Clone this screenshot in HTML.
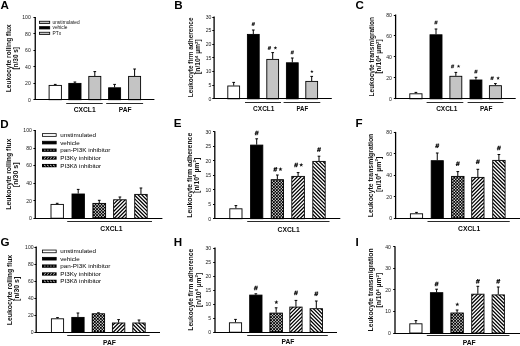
<!DOCTYPE html>
<html><head><meta charset="utf-8"><title>Figure</title>
<style>
html,body{margin:0;padding:0;background:#fff;}
body{width:520px;height:346px;overflow:hidden;font-family:"Liberation Sans", sans-serif;}
svg{display:block;font-family:"Liberation Sans", sans-serif;will-change:transform;filter:blur(0.3px);}
</style></head><body>
<svg width="520" height="346" viewBox="0 0 520 346">
<rect width="520" height="346" fill="#fff"/>
<defs>
<pattern id="chk" width="2.8" height="2.8" patternUnits="userSpaceOnUse">
<rect width="2.8" height="2.8" fill="#000"/>
<rect x="0.1" y="0.1" width="1.2" height="1.2" fill="#fff"/>
<rect x="1.5" y="1.5" width="1.2" height="1.2" fill="#fff"/>
</pattern>
<pattern id="hf" width="2.4" height="2.4" patternUnits="userSpaceOnUse" patternTransform="rotate(-45)">
<rect width="2.4" height="2.4" fill="#fff"/><rect width="2.4" height="1.2" fill="#000"/>
</pattern>
<pattern id="hb" width="2.4" height="2.4" patternUnits="userSpaceOnUse" patternTransform="rotate(45)">
<rect width="2.4" height="2.4" fill="#fff"/><rect width="2.4" height="1.2" fill="#000"/>
</pattern>
</defs>
<text font-size="11.6" font-weight="bold" x="0.4" y="9.4" fill="#000" >A</text>
<line x1="55.25" y1="85" x2="55.25" y2="84.4" stroke="#000" stroke-width="1.0"/>
<line x1="53.9" y1="84.4" x2="56.6" y2="84.4" stroke="#000" stroke-width="1.0"/>
<rect x="49.10" y="85.40" width="12.30" height="14.30" fill="#fff" stroke="#000" stroke-width="0.9"/>
<line x1="74.9" y1="83" x2="74.9" y2="82" stroke="#000" stroke-width="1.0"/>
<line x1="73.55000000000001" y1="82" x2="76.25" y2="82" stroke="#000" stroke-width="1.0"/>
<rect x="68.80" y="83.40" width="12.20" height="16.30" fill="#000" stroke="#000" stroke-width="0.9"/>
<line x1="94.80000000000001" y1="76" x2="94.80000000000001" y2="71.6" stroke="#000" stroke-width="1.0"/>
<line x1="93.45000000000002" y1="71.6" x2="96.15" y2="71.6" stroke="#000" stroke-width="1.0"/>
<rect x="88.80" y="76.40" width="12.00" height="23.30" fill="#c4c4c4" stroke="#000" stroke-width="0.9"/>
<line x1="114.6" y1="87.4" x2="114.6" y2="84.4" stroke="#000" stroke-width="1.0"/>
<line x1="113.25" y1="84.4" x2="115.94999999999999" y2="84.4" stroke="#000" stroke-width="1.0"/>
<rect x="108.60" y="87.80" width="12.00" height="11.90" fill="#000" stroke="#000" stroke-width="0.9"/>
<line x1="134.6" y1="76" x2="134.6" y2="69" stroke="#000" stroke-width="1.0"/>
<line x1="133.25" y1="69" x2="135.95" y2="69" stroke="#000" stroke-width="1.0"/>
<rect x="128.60" y="76.40" width="12.00" height="23.30" fill="#c4c4c4" stroke="#000" stroke-width="0.9"/>
<line x1="35.25" y1="16.9" x2="35.25" y2="100.1" stroke="#000" stroke-width="1.3"/>
<line x1="34.7" y1="99.5" x2="154.4" y2="99.5" stroke="#000" stroke-width="1.2"/>
<line x1="33.45" y1="99.5" x2="35.25" y2="99.5" stroke="#000" stroke-width="1.0"/>
<text font-size="5.1" text-anchor="end" x="30.75" y="101.55" fill="#1a1a1a" >0</text>
<line x1="33.45" y1="83.5" x2="35.25" y2="83.5" stroke="#000" stroke-width="1.0"/>
<text font-size="5.1" text-anchor="end" x="30.75" y="85.09" fill="#1a1a1a" >20</text>
<line x1="33.45" y1="66.5" x2="35.25" y2="66.5" stroke="#000" stroke-width="1.0"/>
<text font-size="5.1" text-anchor="end" x="30.75" y="68.63" fill="#1a1a1a" >40</text>
<line x1="33.45" y1="50.5" x2="35.25" y2="50.5" stroke="#000" stroke-width="1.0"/>
<text font-size="5.1" text-anchor="end" x="30.75" y="52.169999999999995" fill="#1a1a1a" >60</text>
<line x1="33.45" y1="33.5" x2="35.25" y2="33.5" stroke="#000" stroke-width="1.0"/>
<text font-size="5.1" text-anchor="end" x="30.75" y="35.71" fill="#1a1a1a" >80</text>
<line x1="33.45" y1="17.5" x2="35.25" y2="17.5" stroke="#000" stroke-width="1.0"/>
<text font-size="5.1" text-anchor="end" x="30.75" y="19.249999999999993" fill="#1a1a1a" >100</text>
<text font-size="6.5" font-weight="bold" text-anchor="middle" textLength="67.9" lengthAdjust="spacingAndGlyphs" transform="translate(11.3 58.3) rotate(-90)" fill="#111" >Leukocyte rolling flux</text>
<text font-size="6.3" font-weight="bold" text-anchor="middle" textLength="22.5" lengthAdjust="spacingAndGlyphs" transform="translate(18.1 58.3) rotate(-90)" fill="#111" >[n/30 s]</text>
<line x1="66.2" y1="103.5" x2="102.7" y2="103.5" stroke="#2a2a2a" stroke-width="1.2"/>
<line x1="106.2" y1="103.5" x2="143.1" y2="103.5" stroke="#2a2a2a" stroke-width="1.2"/>
<text font-size="6.6" font-weight="bold" text-anchor="middle" textLength="22" lengthAdjust="spacingAndGlyphs" x="84.7" y="111.75" fill="#0a0a0a" >CXCL1</text>
<text font-size="6.6" font-weight="bold" text-anchor="middle" textLength="12.8" lengthAdjust="spacingAndGlyphs" x="125.1" y="111.75" fill="#0a0a0a" >PAF</text>
<rect x="39.5" y="21.25" width="10.2" height="2.30" fill="#c4c4c4" stroke="#000" stroke-width="0.8"/>
<text font-size="4.8" x="52.5" y="24.08" fill="#111" >unstimulated</text>
<rect x="39.5" y="26.65" width="10.2" height="2.30" fill="#000" stroke="#000" stroke-width="0.8"/>
<text font-size="4.8" x="52.5" y="29.48" fill="#111" >vehicle</text>
<rect x="39.5" y="32.25" width="10.2" height="2.30" fill="#c4c4c4" stroke="#000" stroke-width="0.8"/>
<text font-size="4.8" x="52.5" y="35.08" fill="#111" >PTx</text>
<text font-size="11.6" font-weight="bold" x="174.2" y="9.3" fill="#000" >B</text>
<line x1="233.7" y1="85.6" x2="233.7" y2="82.4" stroke="#000" stroke-width="1.0"/>
<line x1="232.35" y1="82.4" x2="235.04999999999998" y2="82.4" stroke="#000" stroke-width="1.0"/>
<rect x="227.80" y="86.00" width="11.80" height="12.80" fill="#fff" stroke="#000" stroke-width="0.9"/>
<line x1="253.3" y1="34" x2="253.3" y2="30" stroke="#000" stroke-width="1.0"/>
<line x1="251.95000000000002" y1="30" x2="254.65" y2="30" stroke="#000" stroke-width="1.0"/>
<rect x="247.40" y="34.40" width="11.80" height="64.40" fill="#000" stroke="#000" stroke-width="0.9"/>
<path d="M252.20,25.85L253.10,22.15M253.50,25.85L254.40,22.15M251.95,23.35L254.95,23.35M251.65,24.65L254.65,24.65" stroke="#111" stroke-width="0.75" fill="none"/>
<line x1="272.7" y1="59" x2="272.7" y2="52.6" stroke="#000" stroke-width="1.0"/>
<line x1="271.34999999999997" y1="52.6" x2="274.05" y2="52.6" stroke="#000" stroke-width="1.0"/>
<rect x="266.80" y="59.40" width="11.80" height="39.40" fill="#c4c4c4" stroke="#000" stroke-width="0.9"/>
<path d="M268.30,49.85L269.20,46.15M269.60,49.85L270.50,46.15M268.05,47.35L271.05,47.35M267.75,48.65L270.75,48.65" stroke="#111" stroke-width="0.75" fill="none"/>
<polygon points="275.40,46.00 275.87,47.25 277.21,47.31 276.16,48.15 276.52,49.44 275.40,48.70 274.28,49.44 274.64,48.15 273.59,47.31 274.93,47.25" fill="#111"/>
<line x1="292.3" y1="62.4" x2="292.3" y2="58" stroke="#000" stroke-width="1.0"/>
<line x1="290.95" y1="58" x2="293.65000000000003" y2="58" stroke="#000" stroke-width="1.0"/>
<rect x="286.40" y="62.80" width="11.80" height="36.00" fill="#000" stroke="#000" stroke-width="0.9"/>
<path d="M291.20,54.25L292.10,50.55M292.50,54.25L293.40,50.55M290.95,51.75L293.95,51.75M290.65,53.05L293.65,53.05" stroke="#111" stroke-width="0.75" fill="none"/>
<line x1="311.7" y1="81" x2="311.7" y2="76.4" stroke="#000" stroke-width="1.0"/>
<line x1="310.34999999999997" y1="76.4" x2="313.05" y2="76.4" stroke="#000" stroke-width="1.0"/>
<rect x="305.80" y="81.40" width="11.80" height="17.40" fill="#c4c4c4" stroke="#000" stroke-width="0.9"/>
<polygon points="311.90,69.79 312.35,70.99 313.62,71.04 312.62,71.83 312.96,73.06 311.90,72.36 310.84,73.06 311.18,71.83 310.18,71.04 311.45,70.99" fill="#111"/>
<line x1="214.1" y1="16.5" x2="214.1" y2="99.1" stroke="#000" stroke-width="1.3"/>
<line x1="213.54999999999998" y1="98.5" x2="331.8" y2="98.5" stroke="#000" stroke-width="1.2"/>
<line x1="212.29999999999998" y1="98.5" x2="214.1" y2="98.5" stroke="#000" stroke-width="1.0"/>
<text font-size="5.1" text-anchor="end" x="211.3" y="100.64999999999999" fill="#1a1a1a" >0</text>
<line x1="212.29999999999998" y1="85.5" x2="214.1" y2="85.5" stroke="#000" stroke-width="1.0"/>
<text font-size="5.1" text-anchor="end" x="211.3" y="87.01666666666665" fill="#1a1a1a" >5</text>
<line x1="212.29999999999998" y1="71.5" x2="214.1" y2="71.5" stroke="#000" stroke-width="1.0"/>
<text font-size="5.1" text-anchor="end" x="211.3" y="73.38333333333333" fill="#1a1a1a" >10</text>
<line x1="212.29999999999998" y1="57.5" x2="214.1" y2="57.5" stroke="#000" stroke-width="1.0"/>
<text font-size="5.1" text-anchor="end" x="211.3" y="59.75" fill="#1a1a1a" >15</text>
<line x1="212.29999999999998" y1="44.5" x2="214.1" y2="44.5" stroke="#000" stroke-width="1.0"/>
<text font-size="5.1" text-anchor="end" x="211.3" y="46.11666666666667" fill="#1a1a1a" >20</text>
<line x1="212.29999999999998" y1="30.5" x2="214.1" y2="30.5" stroke="#000" stroke-width="1.0"/>
<text font-size="5.1" text-anchor="end" x="211.3" y="32.48333333333333" fill="#1a1a1a" >25</text>
<line x1="212.29999999999998" y1="17.5" x2="214.1" y2="17.5" stroke="#000" stroke-width="1.0"/>
<text font-size="5.1" text-anchor="end" x="211.3" y="18.85" fill="#1a1a1a" >30</text>
<text font-size="6.4" font-weight="bold" text-anchor="middle" textLength="79.7" lengthAdjust="spacingAndGlyphs" transform="translate(193.1 57.4) rotate(-90)" fill="#111" >Leukocyte firm adherence</text>
<text font-size="6.75" font-weight="bold" text-anchor="middle" transform="translate(200.39999999999998 56.6) rotate(-90)" fill="#111" >[n/10<tspan font-size="4.4" dy="-2.4">4</tspan><tspan dy="2.4"> µm</tspan><tspan font-size="4.4" dy="-2.4">2</tspan><tspan dy="2.4">]</tspan></text>
<line x1="245" y1="102.5" x2="281" y2="102.5" stroke="#2a2a2a" stroke-width="1.2"/>
<line x1="283.6" y1="102.5" x2="320.3" y2="102.5" stroke="#2a2a2a" stroke-width="1.2"/>
<text font-size="6.6" font-weight="bold" text-anchor="middle" textLength="21.4" lengthAdjust="spacingAndGlyphs" x="263.8" y="111.14999999999999" fill="#0a0a0a" >CXCL1</text>
<text font-size="6.6" font-weight="bold" text-anchor="middle" textLength="11.8" lengthAdjust="spacingAndGlyphs" x="302.3" y="111.14999999999999" fill="#0a0a0a" >PAF</text>
<text font-size="11.6" font-weight="bold" x="355.4" y="8.6" fill="#000" >C</text>
<line x1="415.9" y1="93.4" x2="415.9" y2="92.4" stroke="#000" stroke-width="1.0"/>
<line x1="414.54999999999995" y1="92.4" x2="417.25" y2="92.4" stroke="#000" stroke-width="1.0"/>
<rect x="409.80" y="93.80" width="12.20" height="5.00" fill="#fff" stroke="#000" stroke-width="0.9"/>
<line x1="436.0" y1="34.4" x2="436.0" y2="29" stroke="#000" stroke-width="1.0"/>
<line x1="434.65" y1="29" x2="437.35" y2="29" stroke="#000" stroke-width="1.0"/>
<rect x="430.00" y="34.80" width="12.00" height="64.00" fill="#000" stroke="#000" stroke-width="0.9"/>
<path d="M434.90,24.35L435.80,20.65M436.20,24.35L437.10,20.65M434.65,21.85L437.65,21.85M434.35,23.15L437.35,23.15" stroke="#111" stroke-width="0.75" fill="none"/>
<line x1="455.85" y1="75.9" x2="455.85" y2="72.4" stroke="#000" stroke-width="1.0"/>
<line x1="454.5" y1="72.4" x2="457.20000000000005" y2="72.4" stroke="#000" stroke-width="1.0"/>
<rect x="449.90" y="76.30" width="11.90" height="22.50" fill="#c4c4c4" stroke="#000" stroke-width="0.9"/>
<path d="M451.45,68.25L452.35,64.55M452.75,68.25L453.65,64.55M451.20,65.75L454.20,65.75M450.90,67.05L453.90,67.05" stroke="#111" stroke-width="0.75" fill="none"/>
<polygon points="458.55,64.40 459.02,65.65 460.36,65.71 459.31,66.55 459.67,67.84 458.55,67.10 457.43,67.84 457.79,66.55 456.74,65.71 458.08,65.65" fill="#111"/>
<line x1="475.95000000000005" y1="79.6" x2="475.95000000000005" y2="77.3" stroke="#000" stroke-width="1.0"/>
<line x1="474.6" y1="77.3" x2="477.30000000000007" y2="77.3" stroke="#000" stroke-width="1.0"/>
<rect x="470.00" y="80.00" width="11.90" height="18.80" fill="#000" stroke="#000" stroke-width="0.9"/>
<path d="M474.85,73.45L475.75,69.75M476.15,73.45L477.05,69.75M474.60,70.95L477.60,70.95M474.30,72.25L477.30,72.25" stroke="#111" stroke-width="0.75" fill="none"/>
<line x1="495.4" y1="85.3" x2="495.4" y2="83.6" stroke="#000" stroke-width="1.0"/>
<line x1="494.04999999999995" y1="83.6" x2="496.75" y2="83.6" stroke="#000" stroke-width="1.0"/>
<rect x="489.40" y="85.70" width="12.00" height="13.10" fill="#c4c4c4" stroke="#000" stroke-width="0.9"/>
<path d="M491.00,80.05L491.90,76.35M492.30,80.05L493.20,76.35M490.75,77.55L493.75,77.55M490.45,78.85L493.45,78.85" stroke="#111" stroke-width="0.75" fill="none"/>
<polygon points="498.10,76.20 498.57,77.45 499.91,77.51 498.86,78.35 499.22,79.64 498.10,78.90 496.98,79.64 497.34,78.35 496.29,77.51 497.63,77.45" fill="#111"/>
<line x1="395.6" y1="14.5" x2="395.6" y2="99.1" stroke="#000" stroke-width="1.3"/>
<line x1="395.05" y1="98.5" x2="515.7" y2="98.5" stroke="#000" stroke-width="1.2"/>
<line x1="393.8" y1="98.5" x2="395.6" y2="98.5" stroke="#000" stroke-width="1.0"/>
<text font-size="5.1" text-anchor="end" x="391.9" y="100.64999999999999" fill="#1a1a1a" >0</text>
<line x1="393.8" y1="77.5" x2="395.6" y2="77.5" stroke="#000" stroke-width="1.0"/>
<text font-size="5.1" text-anchor="end" x="391.9" y="79.69999999999999" fill="#1a1a1a" >20</text>
<line x1="393.8" y1="56.5" x2="395.6" y2="56.5" stroke="#000" stroke-width="1.0"/>
<text font-size="5.1" text-anchor="end" x="391.9" y="58.75" fill="#1a1a1a" >40</text>
<line x1="393.8" y1="35.5" x2="395.6" y2="35.5" stroke="#000" stroke-width="1.0"/>
<text font-size="5.1" text-anchor="end" x="391.9" y="37.800000000000004" fill="#1a1a1a" >60</text>
<line x1="393.8" y1="15.5" x2="395.6" y2="15.5" stroke="#000" stroke-width="1.0"/>
<text font-size="5.1" text-anchor="end" x="391.9" y="16.85" fill="#1a1a1a" >80</text>
<text font-size="6.4" font-weight="bold" text-anchor="middle" textLength="79.5" lengthAdjust="spacingAndGlyphs" transform="translate(374.09999999999997 56.7) rotate(-90)" fill="#111" >Leukocyte transmigration</text>
<text font-size="6.7" font-weight="bold" text-anchor="middle" transform="translate(381.09999999999997 56.4) rotate(-90)" fill="#111" >[n/10<tspan font-size="4.4" dy="-2.4">4</tspan><tspan dy="2.4"> µm</tspan><tspan font-size="4.4" dy="-2.4">2</tspan><tspan dy="2.4">]</tspan></text>
<line x1="426.6" y1="102.5" x2="463.3" y2="102.5" stroke="#2a2a2a" stroke-width="1.2"/>
<line x1="467.6" y1="102.5" x2="503.4" y2="102.5" stroke="#2a2a2a" stroke-width="1.2"/>
<text font-size="6.6" font-weight="bold" text-anchor="middle" textLength="21.3" lengthAdjust="spacingAndGlyphs" x="446.8" y="111.35" fill="#0a0a0a" >CXCL1</text>
<text font-size="6.6" font-weight="bold" text-anchor="middle" textLength="12.5" lengthAdjust="spacingAndGlyphs" x="486.2" y="111.35" fill="#0a0a0a" >PAF</text>
<text font-size="11.6" font-weight="bold" x="0.3" y="127.6" fill="#000" >D</text>
<line x1="57.2" y1="204" x2="57.2" y2="203.3" stroke="#000" stroke-width="1.0"/>
<line x1="55.85" y1="203.3" x2="58.550000000000004" y2="203.3" stroke="#000" stroke-width="1.0"/>
<rect x="51.00" y="204.40" width="12.40" height="13.80" fill="#fff" stroke="#000" stroke-width="0.9"/>
<line x1="78.19999999999999" y1="193.6" x2="78.19999999999999" y2="189.4" stroke="#000" stroke-width="1.0"/>
<line x1="76.85" y1="189.4" x2="79.54999999999998" y2="189.4" stroke="#000" stroke-width="1.0"/>
<rect x="72.00" y="194.00" width="12.40" height="24.20" fill="#000" stroke="#000" stroke-width="0.9"/>
<line x1="99.25" y1="203" x2="99.25" y2="200.3" stroke="#000" stroke-width="1.0"/>
<line x1="97.9" y1="200.3" x2="100.6" y2="200.3" stroke="#000" stroke-width="1.0"/>
<clipPath id="c1"><rect x="92.90" y="203.40" width="12.70" height="14.80"/></clipPath>
<rect x="92.90" y="203.40" width="12.70" height="14.80" fill="#000"/>
<g clip-path="url(#c1)" stroke="#fff" stroke-width="1.25" fill="none"><path d="M94.05,217.30V200.40M97.05,217.30V200.40M100.05,217.30V200.40M103.05,217.30V200.40" stroke-dasharray="1.25 1.75"/><path d="M95.55,217.30V200.40M98.55,217.30V200.40M101.55,217.30V200.40M104.55,217.30V200.40" stroke-dasharray="1.25 1.75" stroke-dashoffset="1.5"/></g>
<rect x="92.90" y="203.40" width="12.70" height="14.80" fill="none" stroke="#000" stroke-width="0.9"/>
<line x1="119.9" y1="199.4" x2="119.9" y2="197" stroke="#000" stroke-width="1.0"/>
<line x1="118.55000000000001" y1="197" x2="121.25" y2="197" stroke="#000" stroke-width="1.0"/>
<clipPath id="c2"><rect x="113.60" y="199.80" width="12.60" height="18.40"/></clipPath>
<rect x="113.60" y="199.80" width="12.60" height="18.40" fill="#fff"/>
<path clip-path="url(#c2)" d="M113.60,230.00L126.20,217.40M113.60,226.30L126.20,213.70M113.60,222.60L126.20,210.00M113.60,218.90L126.20,206.30M113.60,215.20L126.20,202.60M113.60,211.50L126.20,198.90M113.60,207.80L126.20,195.20M113.60,204.10L126.20,191.50M113.60,200.40L126.20,187.80" stroke="#000" stroke-width="1.25" fill="none"/>
<rect x="113.60" y="199.80" width="12.60" height="18.40" fill="none" stroke="#000" stroke-width="0.9"/>
<line x1="140.95" y1="194" x2="140.95" y2="188" stroke="#000" stroke-width="1.0"/>
<line x1="139.6" y1="188" x2="142.29999999999998" y2="188" stroke="#000" stroke-width="1.0"/>
<clipPath id="c3"><rect x="134.70" y="194.40" width="12.50" height="23.80"/></clipPath>
<rect x="134.70" y="194.40" width="12.50" height="23.80" fill="#fff"/>
<path clip-path="url(#c3)" d="M147.20,229.90L134.70,217.40M147.20,226.20L134.70,213.70M147.20,222.50L134.70,210.00M147.20,218.80L134.70,206.30M147.20,215.10L134.70,202.60M147.20,211.40L134.70,198.90M147.20,207.70L134.70,195.20M147.20,204.00L134.70,191.50M147.20,200.30L134.70,187.80M147.20,196.60L134.70,184.10" stroke="#000" stroke-width="1.25" fill="none"/>
<rect x="134.70" y="194.40" width="12.50" height="23.80" fill="none" stroke="#000" stroke-width="0.9"/>
<line x1="35.25" y1="130.1" x2="35.25" y2="219.1" stroke="#000" stroke-width="1.3"/>
<line x1="34.7" y1="218.5" x2="162.4" y2="218.5" stroke="#000" stroke-width="1.2"/>
<line x1="33.45" y1="218.5" x2="35.25" y2="218.5" stroke="#000" stroke-width="1.0"/>
<text font-size="5.1" text-anchor="end" x="31.849999999999998" y="220.04999999999998" fill="#1a1a1a" >0</text>
<line x1="33.45" y1="200.5" x2="35.25" y2="200.5" stroke="#000" stroke-width="1.0"/>
<text font-size="5.1" text-anchor="end" x="31.849999999999998" y="202.52999999999997" fill="#1a1a1a" >20</text>
<line x1="33.45" y1="183.5" x2="35.25" y2="183.5" stroke="#000" stroke-width="1.0"/>
<text font-size="5.1" text-anchor="end" x="31.849999999999998" y="185.01" fill="#1a1a1a" >40</text>
<line x1="33.45" y1="165.5" x2="35.25" y2="165.5" stroke="#000" stroke-width="1.0"/>
<text font-size="5.1" text-anchor="end" x="31.849999999999998" y="167.48999999999998" fill="#1a1a1a" >60</text>
<line x1="33.45" y1="148.5" x2="35.25" y2="148.5" stroke="#000" stroke-width="1.0"/>
<text font-size="5.1" text-anchor="end" x="31.849999999999998" y="149.97" fill="#1a1a1a" >80</text>
<line x1="33.45" y1="130.5" x2="35.25" y2="130.5" stroke="#000" stroke-width="1.0"/>
<text font-size="5.1" text-anchor="end" x="31.849999999999998" y="132.45" fill="#1a1a1a" >100</text>
<text font-size="6.8" font-weight="bold" text-anchor="middle" textLength="71.1" lengthAdjust="spacingAndGlyphs" transform="translate(10.8 174.2) rotate(-90)" fill="#111" >Leukocyte rolling flux</text>
<text font-size="6.6" font-weight="bold" text-anchor="middle" textLength="24.7" lengthAdjust="spacingAndGlyphs" transform="translate(18.4 174.8) rotate(-90)" fill="#111" >[n/30 s]</text>
<line x1="67.2" y1="221.5" x2="152" y2="221.5" stroke="#2a2a2a" stroke-width="1.2"/>
<text font-size="6.6" font-weight="bold" text-anchor="middle" textLength="22.1" lengthAdjust="spacingAndGlyphs" x="111.4" y="231.04999999999998" fill="#0a0a0a" >CXCL1</text>
<rect x="42.4" y="133.65" width="13.8" height="2.70" fill="#fff" stroke="#000" stroke-width="0.8"/>
<text font-size="5.54" textLength="35.72" lengthAdjust="spacingAndGlyphs" x="60.2" y="137.079" fill="#000" >unstimulated</text>
<rect x="42.4" y="141.25" width="13.8" height="2.70" fill="#000" stroke="#000" stroke-width="0.8"/>
<text font-size="5.54" textLength="19.61" lengthAdjust="spacingAndGlyphs" x="60.2" y="144.679" fill="#000" >vehicle</text>
<rect x="42" y="148.55" width="14.600000000000001" height="3.30" fill="#000"/>
<path d="M44.40,150.20h1.0M47.40,150.20h1.0M50.40,150.20h1.0M53.40,150.20h1.0" stroke="#e8e8e8" stroke-width="0.95" fill="none"/>
<text font-size="5.54" textLength="50.08" lengthAdjust="spacingAndGlyphs" x="60.2" y="152.279" fill="#000" >pan-PI3K inhibitor</text>
<rect x="42" y="156.35" width="14.600000000000001" height="3.30" fill="#000"/>
<path d="M44.00,158.55L45.80,157.45M47.00,158.55L48.80,157.45M50.00,158.55L51.80,157.45M53.00,158.55L54.80,157.45" stroke="#e8e8e8" stroke-width="0.85" fill="none"/>
<text font-size="5.54" textLength="40.62" lengthAdjust="spacingAndGlyphs" x="60.2" y="160.079" fill="#000" >PI3Kγ inhibitor</text>
<rect x="42" y="163.95" width="14.600000000000001" height="3.30" fill="#000"/>
<path d="M44.00,165.05L45.80,166.15M47.00,165.05L48.80,166.15M50.00,165.05L51.80,166.15M53.00,165.05L54.80,166.15" stroke="#e8e8e8" stroke-width="0.85" fill="none"/>
<text font-size="5.54" textLength="40.98" lengthAdjust="spacingAndGlyphs" x="60.2" y="167.679" fill="#000" >PI3Kδ inhibitor</text>
<text font-size="11.6" font-weight="bold" x="173.7" y="127.2" fill="#000" >E</text>
<line x1="235.9" y1="208.4" x2="235.9" y2="205.6" stroke="#000" stroke-width="1.0"/>
<line x1="234.55" y1="205.6" x2="237.25" y2="205.6" stroke="#000" stroke-width="1.0"/>
<rect x="229.80" y="208.80" width="12.20" height="9.90" fill="#fff" stroke="#000" stroke-width="0.9"/>
<line x1="256.7" y1="144.7" x2="256.7" y2="138.8" stroke="#000" stroke-width="1.0"/>
<line x1="255.35" y1="138.8" x2="258.05" y2="138.8" stroke="#000" stroke-width="1.0"/>
<rect x="250.60" y="145.10" width="12.20" height="73.60" fill="#000" stroke="#000" stroke-width="0.9"/>
<path d="M255.36,135.26L256.46,130.74M256.94,135.26L258.04,130.74M255.05,132.21L258.71,132.21M254.69,133.79L258.35,133.79" stroke="#111" stroke-width="0.92" fill="none"/>
<line x1="277.35" y1="179.3" x2="277.35" y2="175" stroke="#000" stroke-width="1.0"/>
<line x1="276.0" y1="175" x2="278.70000000000005" y2="175" stroke="#000" stroke-width="1.0"/>
<clipPath id="c4"><rect x="271.20" y="179.70" width="12.30" height="39.00"/></clipPath>
<rect x="271.20" y="179.70" width="12.30" height="39.00" fill="#000"/>
<g clip-path="url(#c4)" stroke="#fff" stroke-width="1.25" fill="none"><path d="M272.35,217.80V176.70M275.35,217.80V176.70M278.35,217.80V176.70M281.35,217.80V176.70" stroke-dasharray="1.25 1.75"/><path d="M273.85,217.80V176.70M276.85,217.80V176.70M279.85,217.80V176.70M282.85,217.80V176.70" stroke-dasharray="1.25 1.75" stroke-dashoffset="1.5"/></g>
<rect x="271.20" y="179.70" width="12.30" height="39.00" fill="none" stroke="#000" stroke-width="0.9"/>
<path d="M274.01,171.56L275.11,167.04M275.59,171.56L276.69,167.04M273.70,168.51L277.36,168.51M273.34,170.09L277.00,170.09" stroke="#111" stroke-width="0.92" fill="none"/>
<polygon points="280.45,167.00 280.99,168.45 282.54,168.52 281.33,169.49 281.74,170.98 280.45,170.13 279.16,170.98 279.57,169.49 278.36,168.52 279.91,168.45" fill="#111"/>
<line x1="298.1" y1="176" x2="298.1" y2="172.6" stroke="#000" stroke-width="1.0"/>
<line x1="296.75" y1="172.6" x2="299.45000000000005" y2="172.6" stroke="#000" stroke-width="1.0"/>
<clipPath id="c5"><rect x="291.80" y="176.40" width="12.60" height="42.30"/></clipPath>
<rect x="291.80" y="176.40" width="12.60" height="42.30" fill="#fff"/>
<path clip-path="url(#c5)" d="M291.80,230.50L304.40,217.90M291.80,226.80L304.40,214.20M291.80,223.10L304.40,210.50M291.80,219.40L304.40,206.80M291.80,215.70L304.40,203.10M291.80,212.00L304.40,199.40M291.80,208.30L304.40,195.70M291.80,204.60L304.40,192.00M291.80,200.90L304.40,188.30M291.80,197.20L304.40,184.60M291.80,193.50L304.40,180.90M291.80,189.80L304.40,177.20M291.80,186.10L304.40,173.50M291.80,182.40L304.40,169.80M291.80,178.70L304.40,166.10" stroke="#000" stroke-width="1.25" fill="none"/>
<rect x="291.80" y="176.40" width="12.60" height="42.30" fill="none" stroke="#000" stroke-width="0.9"/>
<path d="M294.76,167.26L295.86,162.74M296.34,167.26L297.44,162.74M294.45,164.21L298.11,164.21M294.09,165.79L297.75,165.79" stroke="#111" stroke-width="0.92" fill="none"/>
<polygon points="301.20,162.70 301.74,164.15 303.29,164.22 302.08,165.19 302.49,166.68 301.20,165.83 299.91,166.68 300.32,165.19 299.11,164.22 300.66,164.15" fill="#111"/>
<line x1="319.0" y1="161" x2="319.0" y2="156.2" stroke="#000" stroke-width="1.0"/>
<line x1="317.65" y1="156.2" x2="320.35" y2="156.2" stroke="#000" stroke-width="1.0"/>
<clipPath id="c6"><rect x="312.80" y="161.40" width="12.40" height="57.30"/></clipPath>
<rect x="312.80" y="161.40" width="12.40" height="57.30" fill="#fff"/>
<path clip-path="url(#c6)" d="M325.20,230.30L312.80,217.90M325.20,226.60L312.80,214.20M325.20,222.90L312.80,210.50M325.20,219.20L312.80,206.80M325.20,215.50L312.80,203.10M325.20,211.80L312.80,199.40M325.20,208.10L312.80,195.70M325.20,204.40L312.80,192.00M325.20,200.70L312.80,188.30M325.20,197.00L312.80,184.60M325.20,193.30L312.80,180.90M325.20,189.60L312.80,177.20M325.20,185.90L312.80,173.50M325.20,182.20L312.80,169.80M325.20,178.50L312.80,166.10M325.20,174.80L312.80,162.40M325.20,171.10L312.80,158.70M325.20,167.40L312.80,155.00M325.20,163.70L312.80,151.30" stroke="#000" stroke-width="1.25" fill="none"/>
<rect x="312.80" y="161.40" width="12.40" height="57.30" fill="none" stroke="#000" stroke-width="0.9"/>
<path d="M317.66,151.86L318.76,147.34M319.24,151.86L320.34,147.34M317.35,148.81L321.01,148.81M316.99,150.39L320.65,150.39" stroke="#111" stroke-width="0.92" fill="none"/>
<line x1="214.8" y1="131.2" x2="214.8" y2="219.1" stroke="#000" stroke-width="1.3"/>
<line x1="214.25" y1="218.5" x2="340.3" y2="218.5" stroke="#000" stroke-width="1.2"/>
<line x1="213.0" y1="218.5" x2="214.8" y2="218.5" stroke="#000" stroke-width="1.0"/>
<text font-size="5.1" text-anchor="end" x="211.20000000000002" y="220.54999999999998" fill="#1a1a1a" >0</text>
<line x1="213.0" y1="204.5" x2="214.8" y2="204.5" stroke="#000" stroke-width="1.0"/>
<text font-size="5.1" text-anchor="end" x="211.20000000000002" y="206.04999999999998" fill="#1a1a1a" >5</text>
<line x1="213.0" y1="189.5" x2="214.8" y2="189.5" stroke="#000" stroke-width="1.0"/>
<text font-size="5.1" text-anchor="end" x="211.20000000000002" y="191.54999999999998" fill="#1a1a1a" >10</text>
<line x1="213.0" y1="175.5" x2="214.8" y2="175.5" stroke="#000" stroke-width="1.0"/>
<text font-size="5.1" text-anchor="end" x="211.20000000000002" y="177.04999999999998" fill="#1a1a1a" >15</text>
<line x1="213.0" y1="160.5" x2="214.8" y2="160.5" stroke="#000" stroke-width="1.0"/>
<text font-size="5.1" text-anchor="end" x="211.20000000000002" y="162.54999999999998" fill="#1a1a1a" >20</text>
<line x1="213.0" y1="146.5" x2="214.8" y2="146.5" stroke="#000" stroke-width="1.0"/>
<text font-size="5.1" text-anchor="end" x="211.20000000000002" y="148.04999999999998" fill="#1a1a1a" >25</text>
<line x1="213.0" y1="131.5" x2="214.8" y2="131.5" stroke="#000" stroke-width="1.0"/>
<text font-size="5.1" text-anchor="end" x="211.20000000000002" y="133.54999999999998" fill="#1a1a1a" >30</text>
<text font-size="6.7" font-weight="bold" text-anchor="middle" textLength="85" lengthAdjust="spacingAndGlyphs" transform="translate(191.7 175.25) rotate(-90)" fill="#111" >Leukocyte firm adherence</text>
<text font-size="6.85" font-weight="bold" text-anchor="middle" transform="translate(198.79999999999998 175.35) rotate(-90)" fill="#111" >[n/10<tspan font-size="4.4" dy="-2.4">4</tspan><tspan dy="2.4"> µm</tspan><tspan font-size="4.4" dy="-2.4">2</tspan><tspan dy="2.4">]</tspan></text>
<line x1="247.2" y1="221.5" x2="329.5" y2="221.5" stroke="#2a2a2a" stroke-width="1.2"/>
<text font-size="6.6" font-weight="bold" text-anchor="middle" textLength="22.1" lengthAdjust="spacingAndGlyphs" x="288.6" y="231.54999999999998" fill="#0a0a0a" >CXCL1</text>
<text font-size="11.6" font-weight="bold" x="355.5" y="127.2" fill="#000" >F</text>
<line x1="416.5" y1="213.4" x2="416.5" y2="212.4" stroke="#000" stroke-width="1.0"/>
<line x1="415.15" y1="212.4" x2="417.85" y2="212.4" stroke="#000" stroke-width="1.0"/>
<rect x="410.40" y="213.80" width="12.20" height="4.50" fill="#fff" stroke="#000" stroke-width="0.9"/>
<line x1="437.25" y1="160.3" x2="437.25" y2="153" stroke="#000" stroke-width="1.0"/>
<line x1="435.9" y1="153" x2="438.6" y2="153" stroke="#000" stroke-width="1.0"/>
<rect x="431.20" y="160.70" width="12.10" height="57.60" fill="#000" stroke="#000" stroke-width="0.9"/>
<path d="M435.91,148.06L437.01,143.54M437.49,148.06L438.59,143.54M435.60,145.01L439.26,145.01M435.24,146.59L438.90,146.59" stroke="#111" stroke-width="0.92" fill="none"/>
<line x1="457.79999999999995" y1="176" x2="457.79999999999995" y2="171.6" stroke="#000" stroke-width="1.0"/>
<line x1="456.44999999999993" y1="171.6" x2="459.15" y2="171.6" stroke="#000" stroke-width="1.0"/>
<clipPath id="c7"><rect x="451.60" y="176.40" width="12.40" height="41.90"/></clipPath>
<rect x="451.60" y="176.40" width="12.40" height="41.90" fill="#000"/>
<g clip-path="url(#c7)" stroke="#fff" stroke-width="1.25" fill="none"><path d="M452.75,217.40V173.40M455.75,217.40V173.40M458.75,217.40V173.40M461.75,217.40V173.40" stroke-dasharray="1.25 1.75"/><path d="M454.25,217.40V173.40M457.25,217.40V173.40M460.25,217.40V173.40M463.25,217.40V173.40" stroke-dasharray="1.25 1.75" stroke-dashoffset="1.5"/></g>
<rect x="451.60" y="176.40" width="12.40" height="41.90" fill="none" stroke="#000" stroke-width="0.9"/>
<path d="M456.46,166.01L457.56,161.49M458.04,166.01L459.14,161.49M456.15,162.96L459.81,162.96M455.79,164.54L459.45,164.54" stroke="#111" stroke-width="0.92" fill="none"/>
<line x1="477.85" y1="177" x2="477.85" y2="169.3" stroke="#000" stroke-width="1.0"/>
<line x1="476.5" y1="169.3" x2="479.20000000000005" y2="169.3" stroke="#000" stroke-width="1.0"/>
<clipPath id="c8"><rect x="471.70" y="177.40" width="12.30" height="40.90"/></clipPath>
<rect x="471.70" y="177.40" width="12.30" height="40.90" fill="#fff"/>
<path clip-path="url(#c8)" d="M471.70,229.80L484.00,217.50M471.70,226.10L484.00,213.80M471.70,222.40L484.00,210.10M471.70,218.70L484.00,206.40M471.70,215.00L484.00,202.70M471.70,211.30L484.00,199.00M471.70,207.60L484.00,195.30M471.70,203.90L484.00,191.60M471.70,200.20L484.00,187.90M471.70,196.50L484.00,184.20M471.70,192.80L484.00,180.50M471.70,189.10L484.00,176.80M471.70,185.40L484.00,173.10M471.70,181.70L484.00,169.40M471.70,178.00L484.00,165.70" stroke="#000" stroke-width="1.25" fill="none"/>
<rect x="471.70" y="177.40" width="12.30" height="40.90" fill="none" stroke="#000" stroke-width="0.9"/>
<path d="M476.51,164.06L477.61,159.54M478.09,164.06L479.19,159.54M476.20,161.01L479.86,161.01M475.84,162.59L479.50,162.59" stroke="#111" stroke-width="0.92" fill="none"/>
<line x1="498.9" y1="160" x2="498.9" y2="154.5" stroke="#000" stroke-width="1.0"/>
<line x1="497.54999999999995" y1="154.5" x2="500.25" y2="154.5" stroke="#000" stroke-width="1.0"/>
<clipPath id="c9"><rect x="492.70" y="160.40" width="12.40" height="57.90"/></clipPath>
<rect x="492.70" y="160.40" width="12.40" height="57.90" fill="#fff"/>
<path clip-path="url(#c9)" d="M505.10,229.90L492.70,217.50M505.10,226.20L492.70,213.80M505.10,222.50L492.70,210.10M505.10,218.80L492.70,206.40M505.10,215.10L492.70,202.70M505.10,211.40L492.70,199.00M505.10,207.70L492.70,195.30M505.10,204.00L492.70,191.60M505.10,200.30L492.70,187.90M505.10,196.60L492.70,184.20M505.10,192.90L492.70,180.50M505.10,189.20L492.70,176.80M505.10,185.50L492.70,173.10M505.10,181.80L492.70,169.40M505.10,178.10L492.70,165.70M505.10,174.40L492.70,162.00M505.10,170.70L492.70,158.30M505.10,167.00L492.70,154.60M505.10,163.30L492.70,150.90M505.10,159.60L492.70,147.20" stroke="#000" stroke-width="1.25" fill="none"/>
<rect x="492.70" y="160.40" width="12.40" height="57.90" fill="none" stroke="#000" stroke-width="0.9"/>
<path d="M497.56,150.26L498.66,145.74M499.14,150.26L500.24,145.74M497.25,147.21L500.91,147.21M496.89,148.79L500.55,148.79" stroke="#111" stroke-width="0.92" fill="none"/>
<line x1="395.6" y1="131.9" x2="395.6" y2="219.1" stroke="#000" stroke-width="1.3"/>
<line x1="395.05" y1="218.5" x2="521" y2="218.5" stroke="#000" stroke-width="1.2"/>
<line x1="393.8" y1="218.5" x2="395.6" y2="218.5" stroke="#000" stroke-width="1.0"/>
<text font-size="5.1" text-anchor="end" x="392.0" y="220.15" fill="#1a1a1a" >0</text>
<line x1="393.8" y1="196.5" x2="395.6" y2="196.5" stroke="#000" stroke-width="1.0"/>
<text font-size="5.1" text-anchor="end" x="392.0" y="198.675" fill="#1a1a1a" >20</text>
<line x1="393.8" y1="175.5" x2="395.6" y2="175.5" stroke="#000" stroke-width="1.0"/>
<text font-size="5.1" text-anchor="end" x="392.0" y="177.20000000000002" fill="#1a1a1a" >40</text>
<line x1="393.8" y1="153.5" x2="395.6" y2="153.5" stroke="#000" stroke-width="1.0"/>
<text font-size="5.1" text-anchor="end" x="392.0" y="155.725" fill="#1a1a1a" >60</text>
<line x1="393.8" y1="132.5" x2="395.6" y2="132.5" stroke="#000" stroke-width="1.0"/>
<text font-size="5.1" text-anchor="end" x="392.0" y="134.25" fill="#1a1a1a" >80</text>
<text font-size="6.7" font-weight="bold" text-anchor="middle" textLength="83.6" lengthAdjust="spacingAndGlyphs" transform="translate(373.3 175.5) rotate(-90)" fill="#111" >Leukocyte transmigration</text>
<text font-size="6.9" font-weight="bold" text-anchor="middle" transform="translate(380.8 174.45) rotate(-90)" fill="#111" >[n/10<tspan font-size="4.4" dy="-2.4">4</tspan><tspan dy="2.4"> µm</tspan><tspan font-size="4.4" dy="-2.4">2</tspan><tspan dy="2.4">]</tspan></text>
<line x1="427.5" y1="221.5" x2="509.75" y2="221.5" stroke="#2a2a2a" stroke-width="1.2"/>
<text font-size="6.6" font-weight="bold" text-anchor="middle" textLength="22.1" lengthAdjust="spacingAndGlyphs" x="469.1" y="230.95" fill="#0a0a0a" >CXCL1</text>
<text font-size="11.6" font-weight="bold" x="0.4" y="246.2" fill="#000" >G</text>
<line x1="57.5" y1="318.4" x2="57.5" y2="317.6" stroke="#000" stroke-width="1.0"/>
<line x1="56.15" y1="317.6" x2="58.85" y2="317.6" stroke="#000" stroke-width="1.0"/>
<rect x="51.40" y="318.80" width="12.20" height="13.70" fill="#fff" stroke="#000" stroke-width="0.9"/>
<line x1="77.95" y1="317" x2="77.95" y2="313" stroke="#000" stroke-width="1.0"/>
<line x1="76.60000000000001" y1="313" x2="79.3" y2="313" stroke="#000" stroke-width="1.0"/>
<rect x="71.80" y="317.40" width="12.30" height="15.10" fill="#000" stroke="#000" stroke-width="0.9"/>
<line x1="98.4" y1="313.4" x2="98.4" y2="312.8" stroke="#000" stroke-width="1.0"/>
<line x1="97.05000000000001" y1="312.8" x2="99.75" y2="312.8" stroke="#000" stroke-width="1.0"/>
<clipPath id="c10"><rect x="92.20" y="313.80" width="12.40" height="18.70"/></clipPath>
<rect x="92.20" y="313.80" width="12.40" height="18.70" fill="#000"/>
<g clip-path="url(#c10)" stroke="#fff" stroke-width="1.25" fill="none"><path d="M93.35,331.60V310.80M96.35,331.60V310.80M99.35,331.60V310.80M102.35,331.60V310.80" stroke-dasharray="1.25 1.75"/><path d="M94.85,331.60V310.80M97.85,331.60V310.80M100.85,331.60V310.80M103.85,331.60V310.80" stroke-dasharray="1.25 1.75" stroke-dashoffset="1.5"/></g>
<rect x="92.20" y="313.80" width="12.40" height="18.70" fill="none" stroke="#000" stroke-width="0.9"/>
<line x1="118.6" y1="322.6" x2="118.6" y2="319.6" stroke="#000" stroke-width="1.0"/>
<line x1="117.25" y1="319.6" x2="119.94999999999999" y2="319.6" stroke="#000" stroke-width="1.0"/>
<clipPath id="c11"><rect x="112.40" y="323.00" width="12.40" height="9.50"/></clipPath>
<rect x="112.40" y="323.00" width="12.40" height="9.50" fill="#fff"/>
<path clip-path="url(#c11)" d="M112.40,344.10L124.80,331.70M112.40,340.40L124.80,328.00M112.40,336.70L124.80,324.30M112.40,333.00L124.80,320.60M112.40,329.30L124.80,316.90M112.40,325.60L124.80,313.20" stroke="#000" stroke-width="1.25" fill="none"/>
<rect x="112.40" y="323.00" width="12.40" height="9.50" fill="none" stroke="#000" stroke-width="0.9"/>
<line x1="139.0" y1="322.6" x2="139.0" y2="320" stroke="#000" stroke-width="1.0"/>
<line x1="137.65" y1="320" x2="140.35" y2="320" stroke="#000" stroke-width="1.0"/>
<clipPath id="c12"><rect x="132.80" y="323.00" width="12.40" height="9.50"/></clipPath>
<rect x="132.80" y="323.00" width="12.40" height="9.50" fill="#fff"/>
<path clip-path="url(#c12)" d="M145.20,344.10L132.80,331.70M145.20,340.40L132.80,328.00M145.20,336.70L132.80,324.30M145.20,333.00L132.80,320.60M145.20,329.30L132.80,316.90M145.20,325.60L132.80,313.20" stroke="#000" stroke-width="1.25" fill="none"/>
<rect x="132.80" y="323.00" width="12.40" height="9.50" fill="none" stroke="#000" stroke-width="0.9"/>
<line x1="36.2" y1="246.6" x2="36.2" y2="333.1" stroke="#000" stroke-width="1.3"/>
<line x1="35.650000000000006" y1="332.5" x2="160" y2="332.5" stroke="#000" stroke-width="1.2"/>
<line x1="34.400000000000006" y1="332.5" x2="36.2" y2="332.5" stroke="#000" stroke-width="1.0"/>
<text font-size="5.1" text-anchor="end" x="33.6" y="334.35" fill="#1a1a1a" >0</text>
<line x1="34.400000000000006" y1="315.5" x2="36.2" y2="315.5" stroke="#000" stroke-width="1.0"/>
<text font-size="5.1" text-anchor="end" x="33.6" y="317.27000000000004" fill="#1a1a1a" >20</text>
<line x1="34.400000000000006" y1="298.5" x2="36.2" y2="298.5" stroke="#000" stroke-width="1.0"/>
<text font-size="5.1" text-anchor="end" x="33.6" y="300.19" fill="#1a1a1a" >40</text>
<line x1="34.400000000000006" y1="281.5" x2="36.2" y2="281.5" stroke="#000" stroke-width="1.0"/>
<text font-size="5.1" text-anchor="end" x="33.6" y="283.11" fill="#1a1a1a" >60</text>
<line x1="34.400000000000006" y1="264.5" x2="36.2" y2="264.5" stroke="#000" stroke-width="1.0"/>
<text font-size="5.1" text-anchor="end" x="33.6" y="266.03000000000003" fill="#1a1a1a" >80</text>
<line x1="34.400000000000006" y1="247.5" x2="36.2" y2="247.5" stroke="#000" stroke-width="1.0"/>
<text font-size="5.1" text-anchor="end" x="33.6" y="248.95" fill="#1a1a1a" >100</text>
<text font-size="6.8" font-weight="bold" text-anchor="middle" textLength="70.3" lengthAdjust="spacingAndGlyphs" transform="translate(11.600000000000001 290) rotate(-90)" fill="#111" >Leukocyte rolling flux</text>
<text font-size="6.6" font-weight="bold" text-anchor="middle" textLength="24.1" lengthAdjust="spacingAndGlyphs" transform="translate(18.5 288.85) rotate(-90)" fill="#111" >[n/30 s]</text>
<line x1="67.2" y1="335.5" x2="149.6" y2="335.5" stroke="#2a2a2a" stroke-width="1.2"/>
<text font-size="6.6" font-weight="bold" text-anchor="middle" textLength="13" lengthAdjust="spacingAndGlyphs" x="109.4" y="344.55" fill="#0a0a0a" >PAF</text>
<rect x="42.4" y="250.05" width="13.8" height="2.70" fill="#fff" stroke="#000" stroke-width="0.8"/>
<text font-size="5.54" textLength="35.72" lengthAdjust="spacingAndGlyphs" x="60.2" y="253.479" fill="#000" >unstimulated</text>
<rect x="42.4" y="257.35" width="13.8" height="2.70" fill="#000" stroke="#000" stroke-width="0.8"/>
<text font-size="5.54" textLength="19.61" lengthAdjust="spacingAndGlyphs" x="60.2" y="260.779" fill="#000" >vehicle</text>
<rect x="42" y="264.45" width="14.600000000000001" height="3.30" fill="#000"/>
<path d="M44.40,266.10h1.0M47.40,266.10h1.0M50.40,266.10h1.0M53.40,266.10h1.0" stroke="#e8e8e8" stroke-width="0.95" fill="none"/>
<text font-size="5.54" textLength="50.08" lengthAdjust="spacingAndGlyphs" x="60.2" y="268.17900000000003" fill="#000" >pan-PI3K inhibitor</text>
<rect x="42" y="272.35" width="14.600000000000001" height="3.30" fill="#000"/>
<path d="M44.00,274.55L45.80,273.45M47.00,274.55L48.80,273.45M50.00,274.55L51.80,273.45M53.00,274.55L54.80,273.45" stroke="#e8e8e8" stroke-width="0.85" fill="none"/>
<text font-size="5.54" textLength="40.62" lengthAdjust="spacingAndGlyphs" x="60.2" y="276.079" fill="#000" >PI3Kγ inhibitor</text>
<rect x="42" y="279.75" width="14.600000000000001" height="3.30" fill="#000"/>
<path d="M44.00,280.85L45.80,281.95M47.00,280.85L48.80,281.95M50.00,280.85L51.80,281.95M53.00,280.85L54.80,281.95" stroke="#e8e8e8" stroke-width="0.85" fill="none"/>
<text font-size="5.54" textLength="40.98" lengthAdjust="spacingAndGlyphs" x="60.2" y="283.479" fill="#000" >PI3Kδ inhibitor</text>
<text font-size="11.6" font-weight="bold" x="173.7" y="246" fill="#000" >H</text>
<line x1="235.5" y1="322.4" x2="235.5" y2="319.4" stroke="#000" stroke-width="1.0"/>
<line x1="234.15" y1="319.4" x2="236.85" y2="319.4" stroke="#000" stroke-width="1.0"/>
<rect x="229.40" y="322.80" width="12.20" height="9.40" fill="#fff" stroke="#000" stroke-width="0.9"/>
<line x1="255.85" y1="294.7" x2="255.85" y2="293.8" stroke="#000" stroke-width="1.0"/>
<line x1="254.5" y1="293.8" x2="257.2" y2="293.8" stroke="#000" stroke-width="1.0"/>
<rect x="249.70" y="295.10" width="12.30" height="37.10" fill="#000" stroke="#000" stroke-width="0.9"/>
<path d="M254.51,290.26L255.61,285.74M256.09,290.26L257.19,285.74M254.20,287.21L257.86,287.21M253.84,288.79L257.50,288.79" stroke="#111" stroke-width="0.92" fill="none"/>
<line x1="276.15" y1="312.7" x2="276.15" y2="307.8" stroke="#000" stroke-width="1.0"/>
<line x1="274.79999999999995" y1="307.8" x2="277.5" y2="307.8" stroke="#000" stroke-width="1.0"/>
<clipPath id="c13"><rect x="269.90" y="313.10" width="12.50" height="19.10"/></clipPath>
<rect x="269.90" y="313.10" width="12.50" height="19.10" fill="#000"/>
<g clip-path="url(#c13)" stroke="#fff" stroke-width="1.25" fill="none"><path d="M271.05,331.30V310.10M274.05,331.30V310.10M277.05,331.30V310.10M280.05,331.30V310.10" stroke-dasharray="1.25 1.75"/><path d="M272.55,331.30V310.10M275.55,331.30V310.10M278.55,331.30V310.10M281.55,331.30V310.10" stroke-dasharray="1.25 1.75" stroke-dashoffset="1.5"/></g>
<rect x="269.90" y="313.10" width="12.50" height="19.10" fill="none" stroke="#000" stroke-width="0.9"/>
<polygon points="276.35,300.10 276.89,301.55 278.44,301.62 277.23,302.59 277.64,304.08 276.35,303.23 275.06,304.08 275.47,302.59 274.26,301.62 275.81,301.55" fill="#111"/>
<line x1="295.95" y1="306.7" x2="295.95" y2="300.4" stroke="#000" stroke-width="1.0"/>
<line x1="294.59999999999997" y1="300.4" x2="297.3" y2="300.4" stroke="#000" stroke-width="1.0"/>
<clipPath id="c14"><rect x="289.80" y="307.10" width="12.30" height="25.10"/></clipPath>
<rect x="289.80" y="307.10" width="12.30" height="25.10" fill="#fff"/>
<path clip-path="url(#c14)" d="M289.80,343.70L302.10,331.40M289.80,340.00L302.10,327.70M289.80,336.30L302.10,324.00M289.80,332.60L302.10,320.30M289.80,328.90L302.10,316.60M289.80,325.20L302.10,312.90M289.80,321.50L302.10,309.20M289.80,317.80L302.10,305.50M289.80,314.10L302.10,301.80M289.80,310.40L302.10,298.10M289.80,306.70L302.10,294.40" stroke="#000" stroke-width="1.25" fill="none"/>
<rect x="289.80" y="307.10" width="12.30" height="25.10" fill="none" stroke="#000" stroke-width="0.9"/>
<path d="M294.61,295.16L295.71,290.64M296.19,295.16L297.29,290.64M294.30,292.11L297.96,292.11M293.94,293.69L297.60,293.69" stroke="#111" stroke-width="0.92" fill="none"/>
<line x1="316.29999999999995" y1="308.3" x2="316.29999999999995" y2="301" stroke="#000" stroke-width="1.0"/>
<line x1="314.94999999999993" y1="301" x2="317.65" y2="301" stroke="#000" stroke-width="1.0"/>
<clipPath id="c15"><rect x="310.10" y="308.70" width="12.40" height="23.50"/></clipPath>
<rect x="310.10" y="308.70" width="12.40" height="23.50" fill="#fff"/>
<path clip-path="url(#c15)" d="M322.50,343.80L310.10,331.40M322.50,340.10L310.10,327.70M322.50,336.40L310.10,324.00M322.50,332.70L310.10,320.30M322.50,329.00L310.10,316.60M322.50,325.30L310.10,312.90M322.50,321.60L310.10,309.20M322.50,317.90L310.10,305.50M322.50,314.20L310.10,301.80M322.50,310.50L310.10,298.10" stroke="#000" stroke-width="1.25" fill="none"/>
<rect x="310.10" y="308.70" width="12.40" height="23.50" fill="none" stroke="#000" stroke-width="0.9"/>
<path d="M314.96,296.06L316.06,291.54M316.54,296.06L317.64,291.54M314.65,293.01L318.31,293.01M314.29,294.59L317.95,294.59" stroke="#111" stroke-width="0.92" fill="none"/>
<line x1="215.0" y1="247.5" x2="215.0" y2="333.1" stroke="#000" stroke-width="1.3"/>
<line x1="214.45" y1="332.5" x2="337" y2="332.5" stroke="#000" stroke-width="1.2"/>
<line x1="213.2" y1="332.5" x2="215.0" y2="332.5" stroke="#000" stroke-width="1.0"/>
<text font-size="5.1" text-anchor="end" x="211.1" y="334.05" fill="#1a1a1a" >0</text>
<line x1="213.2" y1="318.5" x2="215.0" y2="318.5" stroke="#000" stroke-width="1.0"/>
<text font-size="5.1" text-anchor="end" x="211.1" y="320.01666666666665" fill="#1a1a1a" >5</text>
<line x1="213.2" y1="304.5" x2="215.0" y2="304.5" stroke="#000" stroke-width="1.0"/>
<text font-size="5.1" text-anchor="end" x="211.1" y="305.98333333333335" fill="#1a1a1a" >10</text>
<line x1="213.2" y1="290.5" x2="215.0" y2="290.5" stroke="#000" stroke-width="1.0"/>
<text font-size="5.1" text-anchor="end" x="211.1" y="291.95000000000005" fill="#1a1a1a" >15</text>
<line x1="213.2" y1="276.5" x2="215.0" y2="276.5" stroke="#000" stroke-width="1.0"/>
<text font-size="5.1" text-anchor="end" x="211.1" y="277.9166666666667" fill="#1a1a1a" >20</text>
<line x1="213.2" y1="262.5" x2="215.0" y2="262.5" stroke="#000" stroke-width="1.0"/>
<text font-size="5.1" text-anchor="end" x="211.1" y="263.8833333333333" fill="#1a1a1a" >25</text>
<line x1="213.2" y1="248.5" x2="215.0" y2="248.5" stroke="#000" stroke-width="1.0"/>
<text font-size="5.1" text-anchor="end" x="211.1" y="249.85" fill="#1a1a1a" >30</text>
<text font-size="6.7" font-weight="bold" text-anchor="middle" textLength="81.7" lengthAdjust="spacingAndGlyphs" transform="translate(193.2 289.8) rotate(-90)" fill="#111" >Leukocyte firm adherence</text>
<text font-size="6.6" font-weight="bold" text-anchor="middle" transform="translate(200.7 289.9) rotate(-90)" fill="#111" >[n/10<tspan font-size="4.4" dy="-2.4">4</tspan><tspan dy="2.4"> µm</tspan><tspan font-size="4.4" dy="-2.4">2</tspan><tspan dy="2.4">]</tspan></text>
<line x1="247.2" y1="335.5" x2="327.8" y2="335.5" stroke="#2a2a2a" stroke-width="1.2"/>
<text font-size="6.6" font-weight="bold" text-anchor="middle" textLength="12.9" lengthAdjust="spacingAndGlyphs" x="287.9" y="343.75" fill="#0a0a0a" >PAF</text>
<text font-size="11.6" font-weight="bold" x="355.5" y="246.2" fill="#000" >I</text>
<line x1="415.9" y1="323.4" x2="415.9" y2="320.6" stroke="#000" stroke-width="1.0"/>
<line x1="414.54999999999995" y1="320.6" x2="417.25" y2="320.6" stroke="#000" stroke-width="1.0"/>
<rect x="409.80" y="323.80" width="12.20" height="9.20" fill="#fff" stroke="#000" stroke-width="0.9"/>
<line x1="436.6" y1="292.3" x2="436.6" y2="289.2" stroke="#000" stroke-width="1.0"/>
<line x1="435.25" y1="289.2" x2="437.95000000000005" y2="289.2" stroke="#000" stroke-width="1.0"/>
<rect x="430.40" y="292.70" width="12.40" height="40.30" fill="#000" stroke="#000" stroke-width="0.9"/>
<path d="M435.26,286.26L436.36,281.74M436.84,286.26L437.94,281.74M434.95,283.21L438.61,283.21M434.59,284.79L438.25,284.79" stroke="#111" stroke-width="0.92" fill="none"/>
<line x1="457.1" y1="312.6" x2="457.1" y2="310" stroke="#000" stroke-width="1.0"/>
<line x1="455.75" y1="310" x2="458.45000000000005" y2="310" stroke="#000" stroke-width="1.0"/>
<clipPath id="c16"><rect x="450.90" y="313.00" width="12.40" height="20.00"/></clipPath>
<rect x="450.90" y="313.00" width="12.40" height="20.00" fill="#000"/>
<g clip-path="url(#c16)" stroke="#fff" stroke-width="1.25" fill="none"><path d="M452.05,332.10V310.00M455.05,332.10V310.00M458.05,332.10V310.00M461.05,332.10V310.00" stroke-dasharray="1.25 1.75"/><path d="M453.55,332.10V310.00M456.55,332.10V310.00M459.55,332.10V310.00M462.55,332.10V310.00" stroke-dasharray="1.25 1.75" stroke-dashoffset="1.5"/></g>
<rect x="450.90" y="313.00" width="12.40" height="20.00" fill="none" stroke="#000" stroke-width="0.9"/>
<polygon points="457.30,302.20 457.84,303.65 459.39,303.72 458.18,304.69 458.59,306.18 457.30,305.33 456.01,306.18 456.42,304.69 455.21,303.72 456.76,303.65" fill="#111"/>
<line x1="477.85" y1="293.8" x2="477.85" y2="286.3" stroke="#000" stroke-width="1.0"/>
<line x1="476.5" y1="286.3" x2="479.20000000000005" y2="286.3" stroke="#000" stroke-width="1.0"/>
<clipPath id="c17"><rect x="471.70" y="294.20" width="12.30" height="38.80"/></clipPath>
<rect x="471.70" y="294.20" width="12.30" height="38.80" fill="#fff"/>
<path clip-path="url(#c17)" d="M471.70,344.50L484.00,332.20M471.70,340.80L484.00,328.50M471.70,337.10L484.00,324.80M471.70,333.40L484.00,321.10M471.70,329.70L484.00,317.40M471.70,326.00L484.00,313.70M471.70,322.30L484.00,310.00M471.70,318.60L484.00,306.30M471.70,314.90L484.00,302.60M471.70,311.20L484.00,298.90M471.70,307.50L484.00,295.20M471.70,303.80L484.00,291.50M471.70,300.10L484.00,287.80M471.70,296.40L484.00,284.10" stroke="#000" stroke-width="1.25" fill="none"/>
<rect x="471.70" y="294.20" width="12.30" height="38.80" fill="none" stroke="#000" stroke-width="0.9"/>
<path d="M476.51,283.56L477.61,279.04M478.09,283.56L479.19,279.04M476.20,280.51L479.86,280.51M475.84,282.09L479.50,282.09" stroke="#111" stroke-width="0.92" fill="none"/>
<line x1="498.25" y1="294.5" x2="498.25" y2="287" stroke="#000" stroke-width="1.0"/>
<line x1="496.9" y1="287" x2="499.6" y2="287" stroke="#000" stroke-width="1.0"/>
<clipPath id="c18"><rect x="492.10" y="294.90" width="12.30" height="38.10"/></clipPath>
<rect x="492.10" y="294.90" width="12.30" height="38.10" fill="#fff"/>
<path clip-path="url(#c18)" d="M504.40,344.50L492.10,332.20M504.40,340.80L492.10,328.50M504.40,337.10L492.10,324.80M504.40,333.40L492.10,321.10M504.40,329.70L492.10,317.40M504.40,326.00L492.10,313.70M504.40,322.30L492.10,310.00M504.40,318.60L492.10,306.30M504.40,314.90L492.10,302.60M504.40,311.20L492.10,298.90M504.40,307.50L492.10,295.20M504.40,303.80L492.10,291.50M504.40,300.10L492.10,287.80M504.40,296.40L492.10,284.10" stroke="#000" stroke-width="1.25" fill="none"/>
<rect x="492.10" y="294.90" width="12.30" height="38.10" fill="none" stroke="#000" stroke-width="0.9"/>
<path d="M496.91,283.56L498.01,279.04M498.49,283.56L499.59,279.04M496.60,280.51L500.26,280.51M496.24,282.09L499.90,282.09" stroke="#111" stroke-width="0.92" fill="none"/>
<line x1="395.0" y1="246.3" x2="395.0" y2="334.1" stroke="#000" stroke-width="1.3"/>
<line x1="394.45" y1="333.5" x2="521" y2="333.5" stroke="#000" stroke-width="1.2"/>
<line x1="393.2" y1="333.5" x2="395.0" y2="333.5" stroke="#000" stroke-width="1.0"/>
<text font-size="5.1" text-anchor="end" x="390.79999999999995" y="334.85" fill="#1a1a1a" >0</text>
<line x1="393.2" y1="311.5" x2="395.0" y2="311.5" stroke="#000" stroke-width="1.0"/>
<text font-size="5.1" text-anchor="end" x="390.79999999999995" y="313.3" fill="#1a1a1a" >10</text>
<line x1="393.2" y1="289.5" x2="395.0" y2="289.5" stroke="#000" stroke-width="1.0"/>
<text font-size="5.1" text-anchor="end" x="390.79999999999995" y="291.75" fill="#1a1a1a" >20</text>
<line x1="393.2" y1="268.5" x2="395.0" y2="268.5" stroke="#000" stroke-width="1.0"/>
<text font-size="5.1" text-anchor="end" x="390.79999999999995" y="270.20000000000005" fill="#1a1a1a" >30</text>
<line x1="393.2" y1="246.5" x2="395.0" y2="246.5" stroke="#000" stroke-width="1.0"/>
<text font-size="5.1" text-anchor="end" x="390.79999999999995" y="248.65" fill="#1a1a1a" >40</text>
<text font-size="6.7" font-weight="bold" text-anchor="middle" textLength="83" lengthAdjust="spacingAndGlyphs" transform="translate(373.09999999999997 289.95) rotate(-90)" fill="#111" >Leukocyte transmigration</text>
<text font-size="6.75" font-weight="bold" text-anchor="middle" transform="translate(381.4 290.2) rotate(-90)" fill="#111" >[n/10<tspan font-size="4.4" dy="-2.4">4</tspan><tspan dy="2.4"> µm</tspan><tspan font-size="4.4" dy="-2.4">2</tspan><tspan dy="2.4">]</tspan></text>
<line x1="426.8" y1="335.5" x2="509.4" y2="335.5" stroke="#2a2a2a" stroke-width="1.2"/>
<text font-size="6.6" font-weight="bold" text-anchor="middle" textLength="13" lengthAdjust="spacingAndGlyphs" x="469.2" y="344.85" fill="#0a0a0a" >PAF</text>
</svg>
</body></html>
